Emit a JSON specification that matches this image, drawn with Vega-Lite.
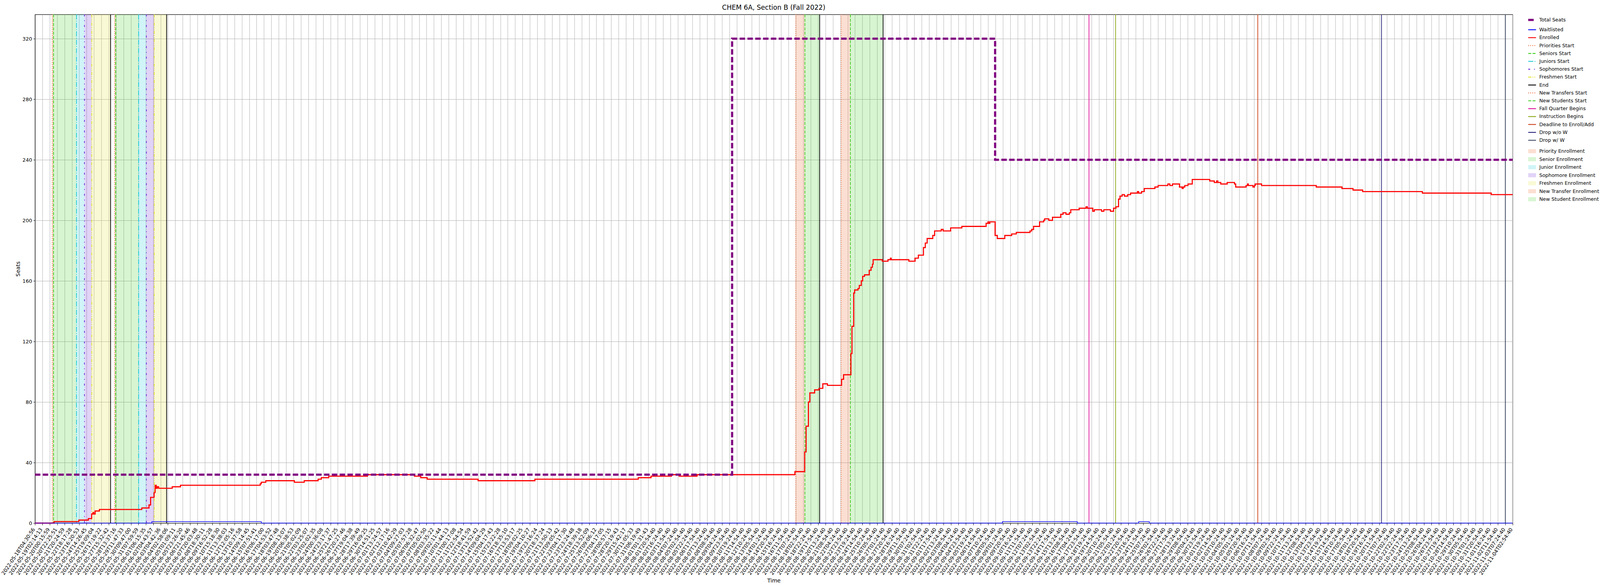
{
"$schema": "https://vega.github.io/schema/vega-lite/v6.json",
"width": 3782.8,
"height": 1302,
"autosize": {"type": "none"},
"padding": {"left": 89.4, "top": 37, "right": 223.8, "bottom": 161},
"title": {"text": "CHEM 6A, Section B (Fall 2022)", "fontSize": 17, "fontWeight": "normal", "font": "DejaVu Sans", "color": "#000000", "offset": 7, "anchor": "middle"},
"datasets": {
"periods": [
{"snapshot": 2.339, "snapshot_end": 2.519, "period": "Priority Enrollment"},
{"snapshot": 2.519, "snapshot_end": 5.623, "period": "Senior Enrollment"},
{"snapshot": 5.623, "snapshot_end": 6.706, "period": "Junior Enrollment"},
{"snapshot": 6.706, "snapshot_end": 7.681, "period": "Sophomore Enrollment"},
{"snapshot": 7.681, "snapshot_end": 10.244, "period": "Freshmen Enrollment"},
{"snapshot": 10.786, "snapshot_end": 10.93, "period": "Priority Enrollment"},
{"snapshot": 10.93, "snapshot_end": 14.034, "period": "Senior Enrollment"},
{"snapshot": 14.034, "snapshot_end": 15.081, "period": "Junior Enrollment"},
{"snapshot": 15.081, "snapshot_end": 16.149, "period": "Sophomore Enrollment"},
{"snapshot": 16.149, "snapshot_end": 17.823, "period": "Freshmen Enrollment"},
{"snapshot": 102.975, "snapshot_end": 104.216, "period": "New Transfer Enrollment"},
{"snapshot": 104.216, "snapshot_end": 106.216, "period": "New Student Enrollment"},
{"snapshot": 109.129, "snapshot_end": 110.37, "period": "New Transfer Enrollment"},
{"snapshot": 110.37, "snapshot_end": 114.799, "period": "New Student Enrollment"}
],
"events": [
{"snapshot": 2.339, "series": "Priorities Start"},
{"snapshot": 2.519, "series": "Seniors Start"},
{"snapshot": 5.623, "series": "Juniors Start"},
{"snapshot": 6.706, "series": "Sophomores Start"},
{"snapshot": 7.681, "series": "Freshmen Start"},
{"snapshot": 10.244, "series": "End"},
{"snapshot": 10.786, "series": "Priorities Start"},
{"snapshot": 10.93, "series": "Seniors Start"},
{"snapshot": 14.034, "series": "Juniors Start"},
{"snapshot": 15.081, "series": "Sophomores Start"},
{"snapshot": 16.149, "series": "Freshmen Start"},
{"snapshot": 17.823, "series": "End"},
{"snapshot": 102.975, "series": "New Transfers Start"},
{"snapshot": 104.216, "series": "New Students Start"},
{"snapshot": 106.216, "series": "End"},
{"snapshot": 109.129, "series": "New Transfers Start"},
{"snapshot": 110.37, "series": "New Students Start"},
{"snapshot": 114.799, "series": "End"},
{"snapshot": 142.664, "series": "Fall Quarter Begins"},
{"snapshot": 146.27, "series": "Instruction Begins"},
{"snapshot": 165.512, "series": "Deadline to Enroll/Add"},
{"snapshot": 182.256, "series": "Drop w/o W"},
{"snapshot": 199.018, "series": "Drop w/ W"}
],
"seats": [
{"snapshot": 0, "value": 32, "series": "Total Seats"},
{"snapshot": 94.366, "value": 320, "series": "Total Seats"},
{"snapshot": 129.962, "value": 240, "series": "Total Seats"},
{"snapshot": 200, "value": 240, "series": "Total Seats"}
],
"waitlist": [
{"snapshot": 0, "value": 0, "series": "Waitlisted"},
{"snapshot": 15.82, "value": 1, "series": "Waitlisted"},
{"snapshot": 30.637, "value": 0, "series": "Waitlisted"},
{"snapshot": 130.948, "value": 1, "series": "Waitlisted"},
{"snapshot": 141.09, "value": 0, "series": "Waitlisted"},
{"snapshot": 149.388, "value": 1, "series": "Waitlisted"},
{"snapshot": 150.832, "value": 0, "series": "Waitlisted"},
{"snapshot": 200, "value": 0, "series": "Waitlisted"}
],
"enrolled": [
{"snapshot": 0, "value": 0, "series": "Enrolled"},
{"snapshot": 2.592, "value": 1, "series": "Enrolled"},
{"snapshot": 5.948, "value": 2, "series": "Enrolled"},
{"snapshot": 7.23, "value": 3, "series": "Enrolled"},
{"snapshot": 7.681, "value": 6, "series": "Enrolled"},
{"snapshot": 7.861, "value": 7, "series": "Enrolled"},
{"snapshot": 7.97, "value": 6, "series": "Enrolled"},
{"snapshot": 8.15, "value": 8, "series": "Enrolled"},
{"snapshot": 8.728, "value": 9, "series": "Enrolled"},
{"snapshot": 14.467, "value": 10, "series": "Enrolled"},
{"snapshot": 15.442, "value": 12, "series": "Enrolled"},
{"snapshot": 15.658, "value": 17, "series": "Enrolled"},
{"snapshot": 16.127, "value": 20, "series": "Enrolled"},
{"snapshot": 16.271, "value": 25, "series": "Enrolled"},
{"snapshot": 16.416, "value": 23, "series": "Enrolled"},
{"snapshot": 16.56, "value": 24, "series": "Enrolled"},
{"snapshot": 16.741, "value": 23, "series": "Enrolled"},
{"snapshot": 18.582, "value": 24, "series": "Enrolled"},
{"snapshot": 19.701, "value": 25, "series": "Enrolled"},
{"snapshot": 30.493, "value": 26, "series": "Enrolled"},
{"snapshot": 30.637, "value": 27, "series": "Enrolled"},
{"snapshot": 31.251, "value": 28, "series": "Enrolled"},
{"snapshot": 35.113, "value": 27, "series": "Enrolled"},
{"snapshot": 36.449, "value": 28, "series": "Enrolled"},
{"snapshot": 38.326, "value": 29, "series": "Enrolled"},
{"snapshot": 38.759, "value": 30, "series": "Enrolled"},
{"snapshot": 39.77, "value": 31, "series": "Enrolled"},
{"snapshot": 45.003, "value": 32, "series": "Enrolled"},
{"snapshot": 51.356, "value": 31, "series": "Enrolled"},
{"snapshot": 52.222, "value": 30, "series": "Enrolled"},
{"snapshot": 53.089, "value": 29, "series": "Enrolled"},
{"snapshot": 59.983, "value": 28, "series": "Enrolled"},
{"snapshot": 67.671, "value": 29, "series": "Enrolled"},
{"snapshot": 81.657, "value": 30, "series": "Enrolled"},
{"snapshot": 83.393, "value": 31, "series": "Enrolled"},
{"snapshot": 86.15, "value": 32, "series": "Enrolled"},
{"snapshot": 87.197, "value": 31, "series": "Enrolled"},
{"snapshot": 89.616, "value": 32, "series": "Enrolled"},
{"snapshot": 102.862, "value": 34, "series": "Enrolled"},
{"snapshot": 104.187, "value": 47, "series": "Enrolled"},
{"snapshot": 104.378, "value": 64, "series": "Enrolled"},
{"snapshot": 104.692, "value": 80, "series": "Enrolled"},
{"snapshot": 104.884, "value": 86, "series": "Enrolled"},
{"snapshot": 105.533, "value": 88, "series": "Enrolled"},
{"snapshot": 106.136, "value": 89, "series": "Enrolled"},
{"snapshot": 106.641, "value": 92, "series": "Enrolled"},
{"snapshot": 107.266, "value": 91, "series": "Enrolled"},
{"snapshot": 109.179, "value": 95, "series": "Enrolled"},
{"snapshot": 109.453, "value": 98, "series": "Enrolled"},
{"snapshot": 110.442, "value": 112, "series": "Enrolled"},
{"snapshot": 110.587, "value": 130, "series": "Enrolled"},
{"snapshot": 110.821, "value": 152, "series": "Enrolled"},
{"snapshot": 110.948, "value": 154, "series": "Enrolled"},
{"snapshot": 111.402, "value": 155, "series": "Enrolled"},
{"snapshot": 111.579, "value": 157, "series": "Enrolled"},
{"snapshot": 111.85, "value": 160, "series": "Enrolled"},
{"snapshot": 112.03, "value": 163, "series": "Enrolled"},
{"snapshot": 112.283, "value": 164, "series": "Enrolled"},
{"snapshot": 112.922, "value": 167, "series": "Enrolled"},
{"snapshot": 113.174, "value": 169, "series": "Enrolled"},
{"snapshot": 113.351, "value": 171, "series": "Enrolled"},
{"snapshot": 113.452, "value": 174, "series": "Enrolled"},
{"snapshot": 114.694, "value": 173, "series": "Enrolled"},
{"snapshot": 115.459, "value": 174, "series": "Enrolled"},
{"snapshot": 115.784, "value": 175, "series": "Enrolled"},
{"snapshot": 115.885, "value": 174, "series": "Enrolled"},
{"snapshot": 118.289, "value": 173, "series": "Enrolled"},
{"snapshot": 119.127, "value": 175, "series": "Enrolled"},
{"snapshot": 119.574, "value": 177, "series": "Enrolled"},
{"snapshot": 120.26, "value": 182, "series": "Enrolled"},
{"snapshot": 120.513, "value": 185, "series": "Enrolled"},
{"snapshot": 120.765, "value": 188, "series": "Enrolled"},
{"snapshot": 121.523, "value": 190, "series": "Enrolled"},
{"snapshot": 121.776, "value": 193, "series": "Enrolled"},
{"snapshot": 122.671, "value": 194, "series": "Enrolled"},
{"snapshot": 122.924, "value": 193, "series": "Enrolled"},
{"snapshot": 123.942, "value": 195, "series": "Enrolled"},
{"snapshot": 125.458, "value": 196, "series": "Enrolled"},
{"snapshot": 128.742, "value": 198, "series": "Enrolled"},
{"snapshot": 128.995, "value": 199, "series": "Enrolled"},
{"snapshot": 129.128, "value": 198, "series": "Enrolled"},
{"snapshot": 129.248, "value": 199, "series": "Enrolled"},
{"snapshot": 129.962, "value": 190, "series": "Enrolled"},
{"snapshot": 130.258, "value": 188, "series": "Enrolled"},
{"snapshot": 131.269, "value": 190, "series": "Enrolled"},
{"snapshot": 132.207, "value": 191, "series": "Enrolled"},
{"snapshot": 132.821, "value": 192, "series": "Enrolled"},
{"snapshot": 134.683, "value": 193, "series": "Enrolled"},
{"snapshot": 134.914, "value": 194, "series": "Enrolled"},
{"snapshot": 135.167, "value": 196, "series": "Enrolled"},
{"snapshot": 135.979, "value": 199, "series": "Enrolled"},
{"snapshot": 136.538, "value": 200, "series": "Enrolled"},
{"snapshot": 136.672, "value": 201, "series": "Enrolled"},
{"snapshot": 137.224, "value": 200, "series": "Enrolled"},
{"snapshot": 137.729, "value": 202, "series": "Enrolled"},
{"snapshot": 138.848, "value": 204, "series": "Enrolled"},
{"snapshot": 139.159, "value": 205, "series": "Enrolled"},
{"snapshot": 139.556, "value": 204, "series": "Enrolled"},
{"snapshot": 140.003, "value": 205, "series": "Enrolled"},
{"snapshot": 140.202, "value": 207, "series": "Enrolled"},
{"snapshot": 141.339, "value": 208, "series": "Enrolled"},
{"snapshot": 142.267, "value": 209, "series": "Enrolled"},
{"snapshot": 142.44, "value": 208, "series": "Enrolled"},
{"snapshot": 143.18, "value": 206, "series": "Enrolled"},
{"snapshot": 143.386, "value": 207, "series": "Enrolled"},
{"snapshot": 144.371, "value": 206, "series": "Enrolled"},
{"snapshot": 144.678, "value": 207, "series": "Enrolled"},
{"snapshot": 145.573, "value": 206, "series": "Enrolled"},
{"snapshot": 145.996, "value": 208, "series": "Enrolled"},
{"snapshot": 146.32, "value": 209, "series": "Enrolled"},
{"snapshot": 146.667, "value": 214, "series": "Enrolled"},
{"snapshot": 146.862, "value": 216, "series": "Enrolled"},
{"snapshot": 147.165, "value": 217, "series": "Enrolled"},
{"snapshot": 147.461, "value": 216, "series": "Enrolled"},
{"snapshot": 147.908, "value": 217, "series": "Enrolled"},
{"snapshot": 148.305, "value": 218, "series": "Enrolled"},
{"snapshot": 149.226, "value": 219, "series": "Enrolled"},
{"snapshot": 149.388, "value": 218, "series": "Enrolled"},
{"snapshot": 149.785, "value": 219, "series": "Enrolled"},
{"snapshot": 150.146, "value": 221, "series": "Enrolled"},
{"snapshot": 151.59, "value": 222, "series": "Enrolled"},
{"snapshot": 152.023, "value": 223, "series": "Enrolled"},
{"snapshot": 153.34, "value": 224, "series": "Enrolled"},
{"snapshot": 153.611, "value": 223, "series": "Enrolled"},
{"snapshot": 153.972, "value": 224, "series": "Enrolled"},
{"snapshot": 154.911, "value": 222, "series": "Enrolled"},
{"snapshot": 155.272, "value": 221, "series": "Enrolled"},
{"snapshot": 155.416, "value": 222, "series": "Enrolled"},
{"snapshot": 155.633, "value": 223, "series": "Enrolled"},
{"snapshot": 156.066, "value": 224, "series": "Enrolled"},
{"snapshot": 156.643, "value": 227, "series": "Enrolled"},
{"snapshot": 159.011, "value": 226, "series": "Enrolled"},
{"snapshot": 159.625, "value": 225, "series": "Enrolled"},
{"snapshot": 159.946, "value": 226, "series": "Enrolled"},
{"snapshot": 160.108, "value": 225, "series": "Enrolled"},
{"snapshot": 160.505, "value": 224, "series": "Enrolled"},
{"snapshot": 161.372, "value": 225, "series": "Enrolled"},
{"snapshot": 162.364, "value": 224, "series": "Enrolled"},
{"snapshot": 162.527, "value": 222, "series": "Enrolled"},
{"snapshot": 163.927, "value": 223, "series": "Enrolled"},
{"snapshot": 164.137, "value": 224, "series": "Enrolled"},
{"snapshot": 164.223, "value": 223, "series": "Enrolled"},
{"snapshot": 164.862, "value": 222, "series": "Enrolled"},
{"snapshot": 165.053, "value": 223, "series": "Enrolled"},
{"snapshot": 165.162, "value": 224, "series": "Enrolled"},
{"snapshot": 166.028, "value": 223, "series": "Enrolled"},
{"snapshot": 173.427, "value": 222, "series": "Enrolled"},
{"snapshot": 176.91, "value": 221, "series": "Enrolled"},
{"snapshot": 178.408, "value": 220, "series": "Enrolled"},
{"snapshot": 179.707, "value": 219, "series": "Enrolled"},
{"snapshot": 187.793, "value": 218, "series": "Enrolled"},
{"snapshot": 197.105, "value": 217, "series": "Enrolled"},
{"snapshot": 200, "value": 217, "series": "Enrolled"}
]
},
"encoding": {
"x": {
"field": "snapshot", "type": "quantitative",
"scale": {"domain": [0, 200], "nice": false, "zero": false},
"axis": {
"title": "Time",
"values": [0,1,2,3,4,5,6,7,8,9,10,11,12,13,14,15,16,17,18,19,20,21,22,23,24,25,26,27,28,29,30,31,32,33,34,35,36,37,38,39,40,41,42,43,44,45,46,47,48,49,50,51,52,53,54,55,56,57,58,59,60,61,62,63,64,65,66,67,68,69,70,71,72,73,74,75,76,77,78,79,80,81,82,83,84,85,86,87,88,89,90,91,92,93,94,95,96,97,98,99,100,101,102,103,104,105,106,107,108,109,110,111,112,113,114,115,116,117,118,119,120,121,122,123,124,125,126,127,128,129,130,131,132,133,134,135,136,137,138,139,140,141,142,143,144,145,146,147,148,149,150,151,152,153,154,155,156,157,158,159,160,161,162,163,164,165,166,167,168,169,170,171,172,173,174,175,176,177,178,179,180,181,182,183,184,185,186,187,188,189,190,191,192,193,194,195,196,197,198,199,200],
"labelExpr": "['2022-05-18T04:30:56','2022-05-19T02:14:13','2022-05-20T00:15:59','2022-05-20T22:25:51','2022-05-21T20:24:59','2022-05-22T18:17:28','2022-05-23T16:20:53','2022-05-24T14:26:45','2022-05-25T19:09:04','2022-05-26T17:19:22','2022-05-27T15:32:42','2022-05-28T13:37:16','2022-05-29T11:47:33','2022-05-30T09:47:00','2022-05-31T07:59:59','2022-06-01T06:15:35','2022-06-02T04:43:57','2022-06-03T04:42:36','2022-06-04T02:58:06','2022-06-05T01:09:11','2022-06-05T23:26:20','2022-06-06T21:45:46','2022-06-07T20:03:48','2022-06-08T18:30:11','2022-06-09T16:52:28','2022-06-10T15:18:30','2022-06-11T13:38:03','2022-06-12T12:05:16','2022-06-13T10:37:58','2022-06-14T09:14:45','2022-06-15T07:51:41','2022-06-16T06:17:00','2022-06-17T04:53:52','2022-06-18T03:47:48','2022-06-19T08:13:07','2022-06-20T06:38:53','2022-06-21T05:02:09','2022-06-22T03:25:07','2022-06-23T02:02:35','2022-06-24T00:36:08','2022-06-24T23:17:37','2022-06-25T21:47:25','2022-06-26T20:27:46','2022-06-27T19:04:38','2022-06-28T17:39:49','2022-06-29T16:09:25','2022-06-30T14:51:25','2022-07-01T13:24:57','2022-07-02T12:17:16','2022-07-03T10:42:29','2022-07-04T09:27:03','2022-07-05T07:57:28','2022-07-06T06:32:47','2022-07-07T05:02:50','2022-07-08T03:35:22','2022-07-09T02:11:44','2022-07-10T01:44:13','2022-07-11T00:17:08','2022-07-11T22:54:54','2022-07-12T18:41:59','2022-07-13T13:52:42','2022-07-14T09:04:29','2022-07-15T04:17:43','2022-07-15T23:22:28','2022-07-16T18:35:10','2022-07-17T13:53:17','2022-07-18T09:02:25','2022-07-19T04:10:27','2022-07-19T23:16:24','2022-07-20T18:37:24','2022-07-21T13:50:13','2022-07-22T09:05:42','2022-07-23T04:17:30','2022-07-23T23:24:48','2022-07-24T18:39:18','2022-07-25T13:52:09','2022-07-26T09:06:12','2022-07-27T04:17:05','2022-07-28T00:57:15','2022-07-28T20:19:43','2022-07-29T15:42:17','2022-07-30T11:05:33','2022-07-31T06:19:49','2022-08-01T01:31:43','2022-08-01T20:54:40','2022-08-02T16:24:40','2022-08-03T11:54:40','2022-08-04T07:24:40','2022-08-05T02:54:40','2022-08-05T22:24:40','2022-08-06T17:54:40','2022-08-07T13:24:40','2022-08-08T08:54:40','2022-08-09T04:24:40','2022-08-09T23:54:40','2022-08-10T19:24:40','2022-08-11T14:54:40','2022-08-12T10:24:40','2022-08-13T05:54:40','2022-08-14T01:24:40','2022-08-14T20:54:40','2022-08-15T16:24:40','2022-08-16T11:54:40','2022-08-17T07:24:40','2022-08-18T02:54:40','2022-08-18T22:24:40','2022-08-19T17:54:40','2022-08-20T13:24:40','2022-08-21T08:54:40','2022-08-22T04:24:40','2022-08-22T23:54:40','2022-08-23T19:24:40','2022-08-24T14:54:40','2022-08-25T10:24:40','2022-08-26T05:54:40','2022-08-27T01:24:40','2022-08-27T20:54:40','2022-08-28T16:24:40','2022-08-29T11:54:40','2022-08-30T07:24:40','2022-08-31T02:54:40','2022-08-31T22:24:40','2022-09-01T17:54:40','2022-09-02T13:24:40','2022-09-03T08:54:40','2022-09-04T04:24:40','2022-09-04T23:54:40','2022-09-05T19:24:40','2022-09-06T14:54:40','2022-09-07T10:24:40','2022-09-08T05:54:40','2022-09-09T01:24:40','2022-09-09T20:54:40','2022-09-10T16:24:40','2022-09-11T11:54:40','2022-09-12T07:24:40','2022-09-13T02:54:40','2022-09-13T22:24:40','2022-09-14T17:54:40','2022-09-15T13:24:40','2022-09-16T08:54:40','2022-09-17T04:24:40','2022-09-17T23:54:40','2022-09-18T19:24:40','2022-09-19T14:54:40','2022-09-20T10:24:40','2022-09-21T05:54:40','2022-09-22T01:24:40','2022-09-22T20:54:40','2022-09-23T16:24:40','2022-09-24T11:54:40','2022-09-25T07:24:40','2022-09-26T02:54:40','2022-09-26T22:24:40','2022-09-27T17:54:40','2022-09-28T13:24:40','2022-09-29T08:54:40','2022-09-30T04:24:40','2022-09-30T23:54:40','2022-10-01T19:24:40','2022-10-02T14:54:40','2022-10-03T10:24:40','2022-10-04T05:54:40','2022-10-05T01:24:40','2022-10-05T20:54:40','2022-10-06T16:24:40','2022-10-07T11:54:40','2022-10-08T07:24:40','2022-10-09T02:54:40','2022-10-09T22:24:40','2022-10-10T17:54:40','2022-10-11T13:24:40','2022-10-12T08:54:40','2022-10-13T04:24:40','2022-10-13T23:54:40','2022-10-14T19:24:40','2022-10-15T14:54:40','2022-10-16T10:24:40','2022-10-17T05:54:40','2022-10-18T01:24:40','2022-10-18T20:54:40','2022-10-19T16:24:40','2022-10-20T11:54:40','2022-10-21T07:24:40','2022-10-22T02:54:40','2022-10-22T22:24:40','2022-10-23T17:54:40','2022-10-24T13:24:40','2022-10-25T08:54:40','2022-10-26T04:24:40','2022-10-26T23:54:40','2022-10-27T19:24:40','2022-10-28T14:54:40','2022-10-29T10:24:40','2022-10-30T05:54:40','2022-10-31T01:24:40','2022-10-31T20:54:40','2022-11-01T16:24:40','2022-11-02T11:54:40','2022-11-03T07:24:40','2022-11-04T02:54:40'][datum.value]",
"labelAngle": -56,
"labelAlign": "right",
"labelBaseline": "top",
"labelOffset": -8,
"labelFontSize": 13,
"labelOverlap": false,
"labelFlush": false,
"labelBound": false,
"tickSize": 5,
"grid": true,
"titlePadding": 6
}
}
},
"layer": [
{
"data": {"name": "periods"},
"mark": {"type": "rect"},
"encoding": {
"x2": {"field": "snapshot_end"},
"fill": {
"field": "period", "type": "nominal",
"scale": {
"domain": ["Priority Enrollment", "Senior Enrollment", "Junior Enrollment", "Sophomore Enrollment", "Freshmen Enrollment", "New Transfer Enrollment", "New Student Enrollment"],
"range": ["rgba(235,110,50,0.22)", "rgba(60,207,30,0.2)", "rgba(18,201,217,0.2)", "rgba(106,34,214,0.2)", "rgba(226,226,43,0.2)", "rgba(235,110,50,0.22)", "rgba(60,207,30,0.2)"]
},
"legend": {"orient": "none", "legendX": 3826.6, "legendY": 343.75, "title": null, "symbolType": "M-2,-1.05H2V1.05H-2Z", "symbolSize": 100, "symbolStrokeWidth": 0, "labelOffset": 12, "rowPadding": 7.5, "padding": 0, "labelFontSize": 12.5, "labelLimit": 0}
}
}
},
{
"encoding": {
"stroke": {
"field": "series", "type": "nominal",
"scale": {
"domain": ["Total Seats", "Waitlisted", "Enrolled", "Priorities Start", "Seniors Start", "Juniors Start", "Sophomores Start", "Freshmen Start", "End", "New Transfers Start", "New Students Start", "Fall Quarter Begins", "Instruction Begins", "Deadline to Enroll/Add", "Drop w/o W", "Drop w/ W"],
"range": ["#800080", "#0000ff", "#ff0000", "#ee6a35", "#3ccf1e", "#16c7d8", "#6a22d6", "#e2e22b", "#000000", "#ee6a35", "#3ccf1e", "#e0149c", "#8ca81a", "#cc4420", "#29267e", "#333d57"]
},
"legend": {"orient": "none", "legendX": 3826.6, "legendY": 7.75, "title": null, "symbolType": "M-2,0H2", "symbolSize": 100, "symbolStrokeWidth": 2, "labelOffset": 12, "rowPadding": 7.2, "padding": 0, "labelFontSize": 12.5, "labelLimit": 0,
"encode": {"symbols": {"update": {"strokeWidth": {"signal": "datum.value === 'Total Seats' ? 5.6 : 2.2"}}}}}
},
"strokeDash": {
"field": "series", "type": "nominal",
"scale": {
"domain": ["Total Seats", "Waitlisted", "Enrolled", "Priorities Start", "Seniors Start", "Juniors Start", "Sophomores Start", "Freshmen Start", "End", "New Transfers Start", "New Students Start", "Fall Quarter Begins", "Instruction Begins", "Deadline to Enroll/Add", "Drop w/o W", "Drop w/ W"],
"range": [[14, 6], [1, 0], [1, 0], [2, 3.3], [7.7, 3.3], [13, 3.3, 2, 3.3], [5, 10, 2, 10], [8, 3, 2, 3, 2, 3], [1, 0], [2, 3.3], [7.7, 3.3], [1, 0], [1, 0], [1, 0], [1, 0], [1, 0]]
}
}
},
"layer": [
{
"data": {"name": "events"},
"mark": {"type": "rule", "strokeWidth": 1.8},
"encoding": {}
},
{
"data": {"name": "enrolled"},
"mark": {"type": "line", "interpolate": "step-after", "strokeWidth": 2.8},
"encoding": {
"y": {"field": "value", "type": "quantitative", "scale": {"domain": [0, 336], "nice": false}, "axis": {"title": "Seats", "values": [0, 40, 80, 120, 160, 200, 240, 280, 320], "grid": true, "titlePadding": 4, "tickSize": 4, "labelPadding": 3.5, "labelFontSize": 13}}
}
},
{
"data": {"name": "waitlist"},
"mark": {"type": "line", "interpolate": "step-after", "strokeWidth": 1.5},
"encoding": {
"y": {"field": "value", "type": "quantitative", "scale": {"domain": [0, 336], "nice": false}, "axis": {"title": "Seats", "values": [0, 40, 80, 120, 160, 200, 240, 280, 320], "grid": true, "titlePadding": 4, "tickSize": 4, "labelPadding": 3.5, "labelFontSize": 13}}
}
},
{
"data": {"name": "seats"},
"mark": {"type": "line", "interpolate": "step-after", "strokeWidth": 5.6},
"encoding": {
"y": {"field": "value", "type": "quantitative", "scale": {"domain": [0, 336], "nice": false}, "axis": {"title": "Seats", "values": [0, 40, 80, 120, 160, 200, 240, 280, 320], "grid": true, "titlePadding": 4, "tickSize": 4, "labelPadding": 3.5, "labelFontSize": 13}}
}
}
]
}
],
"config": {
"font": "DejaVu Sans",
"view": {"stroke": "#000000", "strokeWidth": 1.1},
"axis": {"domainColor": "#000000", "domainWidth": 1.1, "tickColor": "#000000", "tickWidth": 1.1, "labelColor": "#000000", "labelFont": "DejaVu Sans", "labelPadding": 5, "titleFont": "DejaVu Sans", "titleFontSize": 14, "titleFontWeight": "normal", "titleColor": "#000000", "gridColor": "#b0b0b0", "gridWidth": 1, "gridOpacity": 1},
"legend": {"labelFont": "DejaVu Sans", "labelFontSize": 12.5, "labelColor": "#000000"}
}
}
